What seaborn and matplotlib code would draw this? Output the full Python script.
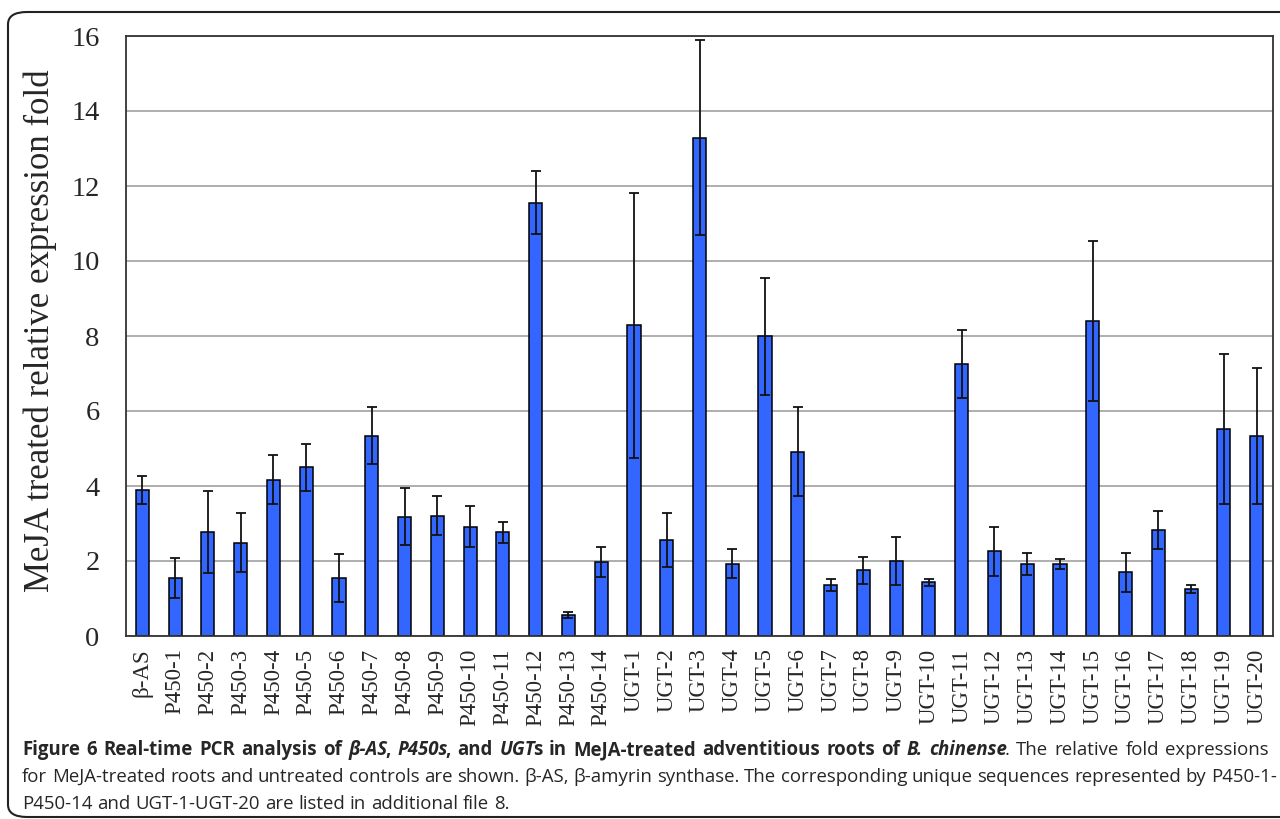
import matplotlib
matplotlib.use("Agg")
import matplotlib.pyplot as plt
import seaborn as sns
import numpy as np
import pandas as pd
from matplotlib.patches import FancyBboxPatch

categories = ["β-AS",
              "P450-1", "P450-2", "P450-3", "P450-4", "P450-5", "P450-6", "P450-7",
              "P450-8", "P450-9", "P450-10", "P450-11", "P450-12", "P450-13", "P450-14",
              "UGT-1", "UGT-2", "UGT-3", "UGT-4", "UGT-5", "UGT-6", "UGT-7", "UGT-8",
              "UGT-9", "UGT-10", "UGT-11", "UGT-12", "UGT-13", "UGT-14", "UGT-15",
              "UGT-16", "UGT-17", "UGT-18", "UGT-19", "UGT-20"]
values = [3.90, 1.55, 2.77, 2.49, 4.17, 4.50, 1.55, 5.34, 3.18, 3.21, 2.92, 2.77,
          11.55, 0.56, 1.97, 8.29, 2.56, 13.29, 1.93, 7.99, 4.92, 1.36, 1.75, 2.00,
          1.43, 7.26, 2.26, 1.93, 1.93, 8.40, 1.70, 2.83, 1.26, 5.52, 5.34]
errors = [0.37, 0.53, 1.10, 0.78, 0.65, 0.62, 0.64, 0.76, 0.76, 0.52, 0.55, 0.28,
          0.84, 0.07, 0.40, 3.53, 0.72, 2.60, 0.38, 1.57, 1.18, 0.15, 0.37, 0.63,
          0.09, 0.91, 0.65, 0.29, 0.13, 2.13, 0.52, 0.51, 0.10, 2.00, 1.81]
yticks = [0, 2, 4, 6, 8, 10, 12, 14, 16]
ylabel = "MeJA treated relative expression fold"

sns.set_style("white")
serif = ["Liberation Serif", "DejaVu Serif"]
cap_font = ["Open Sans", "DejaVu Sans"]

W, H = 1280, 819
fig = plt.figure(figsize=(W / 100, H / 100), dpi=100)
ax = fig.add_axes([126 / W, 1 - 636 / H, (1273 - 126) / W, (636 - 36) / H])

df = pd.DataFrame({"gene": categories, "fold": values, "err": errors})
sns.barplot(data=df, x="gene", y="fold", color="#3366FF", saturation=1,
            width=0.40, edgecolor="black", linewidth=1.1, errorbar=None, ax=ax)
ax.errorbar(np.arange(len(categories)), df["fold"], yerr=df["err"], fmt="none",
            ecolor="#111111", elinewidth=1.3, capsize=3.6, capthick=1.3, zorder=5)

ax.set_xlim(-0.5, len(categories) - 0.5)
ax.set_ylim(0, 16)
ax.set_yticks(yticks)
ax.set_yticklabels([str(v) for v in yticks], family=serif, fontsize=20.5)
ax.set_xticks(np.arange(len(categories)))
ax.set_xticklabels(categories, rotation=90, family=serif, fontsize=16.5, va="top")
ax.set_xticks(np.arange(len(categories) - 1) + 0.5, minor=True)
ax.tick_params(axis="x", which="major", length=0, pad=9)
ax.tick_params(axis="x", which="minor", direction="in", length=5, color="#888888", width=1)
ax.tick_params(axis="y", direction="in", length=4, color="#666666", pad=19)
ax.set_xlabel("")
ax.set_ylabel(ylabel, family=serif, fontsize=25)
ax.yaxis.set_label_coords((57 - 126) / (1273 - 126), (636 - 331) / (636 - 36))
ax.yaxis.grid(True, color="#a8a8a8", linewidth=1.3)
ax.set_axisbelow(True)
for s in ax.spines.values():
    s.set_visible(True)
    s.set_color("#333333")
    s.set_linewidth(1.3)

# rounded frame
frame = FancyBboxPatch((8 / W, 1 - 817 / H), (1300 - 8) / W, (817 - 12) / H,
                       boxstyle="round,pad=0,rounding_size=0.015",
                       transform=fig.transFigure, facecolor="none",
                       edgecolor="#222222", linewidth=1.5, clip_on=False)
fig.patches.append(frame)

# caption (justified lines)
renderer = fig.canvas.get_renderer()
size = 13.4

def measure(txt, weight, style):
    t = fig.text(0, 0, txt, fontsize=size, fontweight=weight, fontstyle=style, family=cap_font)
    w = t.get_window_extent(renderer).width
    t.remove()
    return w

def tokenize(segments):
    toks = []  # [text, weight, style, space_after, glued_to_prev]
    for txt, weight, style in segments:
        parts = txt.split(" ")
        for i, p in enumerate(parts):
            last = i == len(parts) - 1
            if p:
                glued = bool(toks) and not toks[-1][3] and i == 0
                toks.append([p, weight, style, not last, glued])
            elif not last and toks:
                toks[-1][3] = True
    return toks

def rich_line(x, y, segments, target=None):
    toks = tokenize(segments)
    widths = [measure(t[0], t[1], t[2]) for t in toks]
    spaces = [measure("x x", t[1], t[2]) - measure("xx", t[1], t[2]) if t[3] else 0 for t in toks]
    nat = sum(widths) + sum(spaces[:-1])
    n_sp = sum(1 for s in spaces[:-1] if s > 0)
    extra = 0
    if target is not None and n_sp:
        extra = (target - x - nat) / n_sp
    cur = x
    for k, (tok, w, sp) in enumerate(zip(toks, widths, spaces)):
        if tok[4]:
            cur -= 2
        fig.text(cur / W, 1 - y / H, tok[0], fontsize=size, fontweight=tok[1],
                 fontstyle=tok[2], family=cap_font, va="baseline", ha="left")
        cur += w
        if sp:
            cur += sp + extra

line1 = [("Figure 6 Real-time PCR analysis of ", "bold", "normal"),
         ("β-AS", "bold", "italic"), (", ", "bold", "normal"),
         ("P450s", "bold", "italic"), (", and ", "bold", "normal"),
         ("UGT", "bold", "italic"), ("s in MeJA-treated adventitious roots of ", "bold", "normal"),
         ("B. chinense", "bold", "italic"), (". The relative fold expressions", "normal", "normal")]
line2 = [("for MeJA-treated roots and untreated controls are shown. β-AS, β-amyrin synthase. "
          "The corresponding unique sequences represented by P450-1-", "normal", "normal")]
line3 = [("P450-14 and UGT-1-UGT-20 are listed in additional file 8.", "normal", "normal")]
rich_line(22, 755, line1, target=1277)
rich_line(22, 782, line2, target=1277)
rich_line(22, 809, line3)

fig.savefig("out.png", dpi=100)
